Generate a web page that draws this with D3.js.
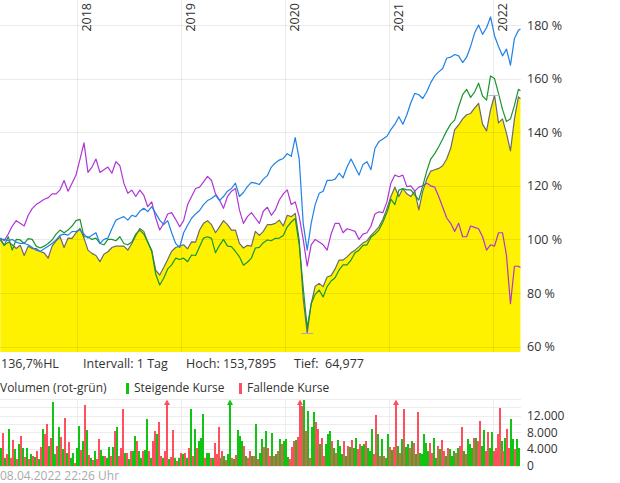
<!DOCTYPE html>
<html>
<head>
<meta charset="utf-8">
<script src="https://cdn.jsdelivr.net/npm/d3@7"></script>
<style>
body { margin: 0; background: #fff; }
svg text { font-family: "Open Sans", sans-serif; fill: #333; white-space: pre; }
</style>
</head>
<body>
<svg id="chart" width="620" height="483"></svg>
<script>
'use strict';

// Kursverlauf in %, alle 14 Tage ab 07.04.2017, letzter Wert 08.04.2022
const startDate = new Date(2017, 3, 7);
const lastDate = new Date(2022, 3, 8);

const purple = [100.5,99.5,102,105,107,106,105,109,111.5,113,
  114,115,115.5,117,117,118.5,122,118,121,124,
  130,136,125,127,130,125,126,127,124.7,129,
  127.5,121,117.2,118.4,116,118.4,116.5,112.2,114,108,
  103.5,106,109.5,110,107.5,104.7,107,113,116,119,
  119.5,121.5,123.5,122,117,114.7,111.6,116,118,119,
  111,106,108.5,110,108,106,110.5,112,109,111,
  114.7,117,118.5,113,114,108.5,100,90,98,100,
  99,98,96,102,106,106,102.5,104,103.5,103,
  100,102,102.5,105,109.5,110.3,110,114,121,124,
  123.4,124,119.7,120,118,119.5,120,121,120,119.5,
  116,112,108,106,103,106,101,101,105,104.5,
  104,101,96,98,97.5,102.5,102.5,94,76,90,90,89.5];

const blue = [100,100,99.5,100,99,98.5,98.5,98,97,96,
  95.5,96.5,97.5,98.5,99.8,101.5,102,101.6,102.9,103,
  103.5,102,100.5,101.6,102.5,98.5,100,100.5,104,107.2,
  107.9,108.5,107.2,109,108.5,110.5,111.6,110.4,112.2,109.7,
  107.2,105.5,107,102.5,98.5,97,102.5,105.3,107.9,109.5,
  110.8,113,114.5,115.3,116.5,114.5,116,118,119,121,
  116,117.5,119.7,121.3,121,120.5,122.5,123.8,127,128.5,
  129.6,130.2,132,131,138,130,106,96,106,113,
  117.2,118,122,122,122.5,124.7,123,127,130,127,
  124,128,129,126,134,136.5,137.5,138.5,141,143,
  145.8,143,146.5,151,154.5,154,152.6,155.1,158.5,161,
  162.5,163.8,167.6,168,169,168.5,166,168,172,177,
  180,176.5,179,183,176,172,168.5,171,165,175,178,178.5];

const green = [100.3,97.8,101,96,100,99.8,98.5,100.3,100,97.5,
  96.8,97.5,98.5,99.8,102,103.5,102.5,103.5,105,107,
  107.5,101,101,100,100.5,98.5,98,100,100,99.5,
  101,98.5,98,99,102,103.5,102,99,95.5,87,
  83,85.5,89,90.5,93,92.5,93,91.7,94.2,94,
  97.3,100.5,101,100.4,95,97.8,100,97.5,97.3,95.5,
  93.5,90.4,91.5,93,96.8,97,98.8,99.8,99.5,100.4,
  100.5,101.5,104.7,106.5,107.8,98,82,67,76,79.5,
  81.1,78.5,82.4,84.5,85.7,88.6,90.5,90.5,92.3,95,
  96,97.8,98,100.8,102,103.5,106.5,110,115,113,
  118.4,119,118.5,118.5,116.5,114.7,120,125.5,130,132,
  134.6,137.5,140.5,143,144.5,149.5,154,156,153,155,
  158.3,153.5,152,161,160,154.5,148.5,144,145,150,156,155.5];

const gray = [99.8,97.8,99,98,96.6,97.8,94,97.5,96.6,96.6,
  95.5,95,93,97.5,99.5,101,97,100.5,100.4,102.5,
  104.1,100.5,96,94.8,94,91.7,94.5,95.4,97,97.5,
  97.5,97.5,96,98.5,101.5,104.1,103,99,96,88.5,
  86.7,89.5,92.5,95.6,97,97.5,98,96.5,99.1,99,
  103.5,106,107,105.5,102.5,104.7,107,105.5,103.5,103.5,
  98.5,96.8,97.8,97.5,103,101.5,103,105.5,105.5,106,
  107.2,105,109,108.5,109.7,99.8,78,64.977,76,82.5,
  83.6,82.4,86,86.5,89,92.3,92.3,93.5,95,96,
  97.3,98.7,99.5,101.5,103,104.7,107.5,111.5,116,119.5,
  116,119,117,116,118,111,118,122.5,125.5,126,
  126.5,127.5,130,134,141,142.7,145,146.5,147,149,
  150.8,143,140.5,148.3,153.79,143.5,145,139.6,133,145,153.2,152.5];

const yTicks = [60, 80, 100, 120, 140, 160, 180];
const yearTicks = [2018, 2019, 2020, 2021, 2022];

// Wochenvolumen ab 07.04.2017, g = steigend, r = fallend
const volumes = [4100,7700,1700,2700,8700,1800,6100,3900,1500,5100,
  7200,4300,2100,4100,1500,2700,2300,2100,3500,1500,
  4500,8900,7500,10100,4700,6700,15200,2700,4700,9300,
  6900,3900,11400,2900,5700,1800,2900,500,4100,9600,
  3700,5900,14500,8500,2600,1800,1300,3500,1500,6300,
  3700,2300,2300,1900,4500,2300,4500,8400,9200,2300,
  4300,13700,2900,2900,1500,3500,3500,7100,5900,3500,
  1900,3500,3800,11100,3500,1900,5900,8400,7500,10400,
  2300,1900,3500,20000,1500,2100,8600,1900,1100,1900,
  3100,2700,2900,1900,4300,13700,2300,8900,4100,5900,
  6500,12500,1900,3100,3100,1900,1900,5300,2700,9200,
  1900,3500,2300,1300,2700,20000,1900,1500,2600,8500,
  7100,5900,4700,2300,1900,3500,2300,2300,10100,1500,
  3100,6300,4500,8400,4300,2300,7700,2300,2700,3500,
  6300,5100,5900,6300,2100,1500,4500,5900,6100,6900,
  20000,14400,15800,8400,13000,1900,9300,12800,10400,8800,
  5100,6600,2300,5100,7500,8200,5900,4300,3100,6100,
  4700,2700,5900,2300,4700,4500,6100,4300,6700,3900,
  5100,4700,5100,5900,4300,3500,8800,2700,12200,7500,
  2300,6300,2300,1900,7500,4500,3700,4500,20000,4700,
  2900,6300,13600,4500,5100,4300,5900,5500,2700,12800,
  3100,2700,7500,5500,3500,5500,3100,6700,1900,4700,
  3900,6100,3500,2300,4300,3900,2300,3500,2900,4300,
  4700,9300,3500,2700,6300,5100,4300,6700,6700,5900,
  10800,4700,8500,3500,8000,4300,8000,3500,4300,7500,
  13800,5900,3500,6700,8800,4300,11200,6300,3900,6300,
  4300];
const volDir = ("grgrgrrgrg" + "rgrgrgrgrg" + "rgrrgrggrg" + "rgrgrggrgg" + "rgrgrgrgrr" +
  "ggrggrgrgr" + "rrgrgrggrg" + "grggrgrrgr" + "rgrrgrrgrg" + "rgrgrgrgrg" +
  "ggrggrgrrr" + "grgrggrgrg" + "ggrgrrgrgr" + "g" +
  "grgrrgrgr" + "grgggrrrgr" + "rrgrgrggrr" + "grrgggrgrg" + "ggrgrgrggr" +
  "rggrgggrrg" + "rgrggrgrrg" + "rgrggrgrgr" + "gggggrrggr" + "grrgrgggrg" +
  "rrgrgggrgr" + "rggrrggrrr" + "rgrgrrggrg" + "g").split("");
const volTicks = [0, 4000, 8000, 12000];

const dates = d3.range(purple.length - 1).map(i => d3.timeDay.offset(startDate, 14 * i));
dates.push(lastDate);
const volDates = volumes.map((v, i) => d3.timeDay.offset(startDate, 7 * i));

const W = 521, plotBottom = 352;
const volTop = 399, volBottom = 465.5;

const svg = d3.select("#chart");

let x = d3.scaleTime()
  .domain([new Date(2017, 3, 6), new Date(2022, 3, 10)])
  .range([0, W]);
let y = d3.scaleLinear().domain([58, 189.33]).range([plotBottom, 0]);
let yv = d3.scaleLinear().domain([0, 16000]).range([volBottom, volTop]);

const de = d3.formatLocale({decimal: ",", thousands: ".", grouping: [3], currency: ["", " €"]});
const fmtVol = de.format(",");

let toPoints = vals => vals.map((v, i) => ({date: dates[i], v: v}));

// Flaeche unter der grauen Linie
let area = d3.area().x(d => x(d.date)).y0(plotBottom).y1(d => y(d.v));
svg.append("path")
  .attr("d", area(toPoints(gray)))
  .attr("fill", "#fff200");

// Gitter
let grid = svg.append("g").attr("shape-rendering", "crispEdges");
grid.selectAll("line.h").data(yTicks).enter().append("line")
  .attr("x1", 0).attr("x2", W)
  .attr("y1", d => Math.round(y(d)) + 0.5).attr("y2", d => Math.round(y(d)) + 0.5)
  .attr("stroke", "rgba(0,0,0,0.08)");
grid.selectAll("line.v").data(yearTicks).enter().append("line")
  .attr("x1", d => Math.round(x(new Date(d, 0, 1))) + 0.5)
  .attr("x2", d => Math.round(x(new Date(d, 0, 1))) + 0.5)
  .attr("y1", 0).attr("y2", plotBottom)
  .attr("stroke", "rgba(0,0,0,0.08)");

// Linien
let line = d3.line().x(d => x(d.date)).y(d => y(d.v));
const series = [
  {vals: purple, color: "#b135d4"},
  {vals: gray, color: "#6a6a6a"},
  {vals: green, color: "#17952f"},
  {vals: blue, color: "#1f80e6"}
];
series.forEach(s => {
  svg.append("path")
    .attr("d", line(toPoints(s.vals)))
    .attr("fill", "none")
    .attr("stroke", s.color)
    .attr("stroke-width", 1.2)
    .attr("stroke-linejoin", "round");
});

// Hoch / Tief Markierung
let hiIdx = gray.indexOf(d3.max(gray)), loIdx = gray.indexOf(d3.min(gray));
svg.append("line")
  .attr("x1", x(dates[hiIdx]) - 6).attr("x2", x(dates[hiIdx]) + 5)
  .attr("y1", Math.round(y(gray[hiIdx])) + 0.5).attr("y2", Math.round(y(gray[hiIdx])) + 0.5)
  .attr("stroke", "#b8b8b8").attr("stroke-width", 1);
svg.append("line")
  .attr("x1", x(dates[loIdx]) - 6).attr("x2", x(dates[loIdx]) + 6)
  .attr("y1", Math.round(y(gray[loIdx])) + 0.5).attr("y2", Math.round(y(gray[loIdx])) + 0.5)
  .attr("stroke", "#a9a9d8").attr("stroke-width", 1.2);

// Achsenbeschriftung rechts
svg.selectAll("text.ylab").data(yTicks).enter().append("text")
  .attr("x", 527).attr("y", d => y(d)).attr("dy", "0.36em")
  .style("font-size", "12.5px")
  .text(d => d + " %");

// Jahre oben, gedreht
svg.selectAll("text.year").data(yearTicks).enter().append("text")
  .attr("transform", d => "translate(" + (x(new Date(d, 0, 1)) + 14) + ",3) rotate(-90)")
  .attr("text-anchor", "end")
  .style("font-size", "12.5px")
  .text(d => d);

// Infozeile
const info = [
  {x: 1, t: "136,7%HL"},
  {x: 83, t: "Intervall: 1 Tag"},
  {x: 186, t: "Hoch: 153,7895"},
  {x: 294, t: "Tief:  64,977"}
];
svg.selectAll("text.info").data(info).enter().append("text")
  .attr("x", d => d.x).attr("y", 368)
  .style("font-size", "12.5px")
  .text(d => d.t);

// Legende Volumen
svg.append("text").attr("x", 0).attr("y", 392).style("font-size", "12px").text("Volumen (rot-grün)");
svg.append("rect").attr("x", 126).attr("y", 383).attr("width", 3).attr("height", 11).attr("fill", "#11c411");
svg.append("text").attr("x", 134).attr("y", 392).style("font-size", "12px").text("Steigende Kurse");
svg.append("rect").attr("x", 239).attr("y", 383).attr("width", 3).attr("height", 11).attr("fill", "#ff4f5f");
svg.append("text").attr("x", 247).attr("y", 392).style("font-size", "12px").text("Fallende Kurse");

// Volumen Gitter
let vgrid = svg.append("g").attr("shape-rendering", "crispEdges");
vgrid.selectAll("line.h").data(d3.range(0, 16001, 2000)).enter().append("line")
  .attr("x1", 0).attr("x2", W)
  .attr("y1", d => Math.round(yv(d)) + 0.5).attr("y2", d => Math.round(yv(d)) + 0.5)
  .attr("stroke", "#ececec");
vgrid.selectAll("line.v").data(yearTicks).enter().append("line")
  .attr("x1", d => Math.round(x(new Date(d, 0, 1))) + 0.5)
  .attr("x2", d => Math.round(x(new Date(d, 0, 1))) + 0.5)
  .attr("y1", volTop).attr("y2", volBottom)
  .attr("stroke", "#ececec");

// Volumen Balken
const upColor = "#11c411", downColor = "#ff4f5f";
let bars = svg.append("g").attr("shape-rendering", "crispEdges");
bars.selectAll("rect").data(volumes).enter().append("rect")
  .attr("x", (d, i) => Math.round(x(volDates[i])))
  .attr("width", 2)
  .attr("y", d => d > 16000 ? volTop + 5 : yv(d))
  .attr("height", d => d > 16000 ? volBottom - volTop - 5 : volBottom - yv(d))
  .attr("fill", (d, i) => volDir[i] === "g" ? upColor : downColor);

// Pfeile fuer abgeschnittene Balken
let over = volumes.map((v, i) => ({v: v, i: i})).filter(d => d.v > 16000);
svg.selectAll("path.arrow").data(over).enter().append("path")
  .attr("d", d => {
    let cx = Math.round(x(volDates[d.i])) + 1;
    return "M" + (cx - 3) + "," + (volTop + 6) + "L" + cx + "," + (volTop + 0.5) + "L" + (cx + 3) + "," + (volTop + 6) + "Z";
  })
  .attr("fill", d => volDir[d.i] === "g" ? upColor : downColor);

// Volumen Achse
svg.selectAll("text.vlab").data(volTicks).enter().append("text")
  .attr("x", 527).attr("y", d => yv(d)).attr("dy", "0.36em")
  .style("font-size", "12px")
  .text(d => fmtVol(d));

// Zeitstempel
svg.append("text").attr("x", 0).attr("y", 480)
  .style("font-size", "12px").style("fill", "#aaa")
  .text("08.04.2022 22:26 Uhr");
</script>
</body>
</html>
